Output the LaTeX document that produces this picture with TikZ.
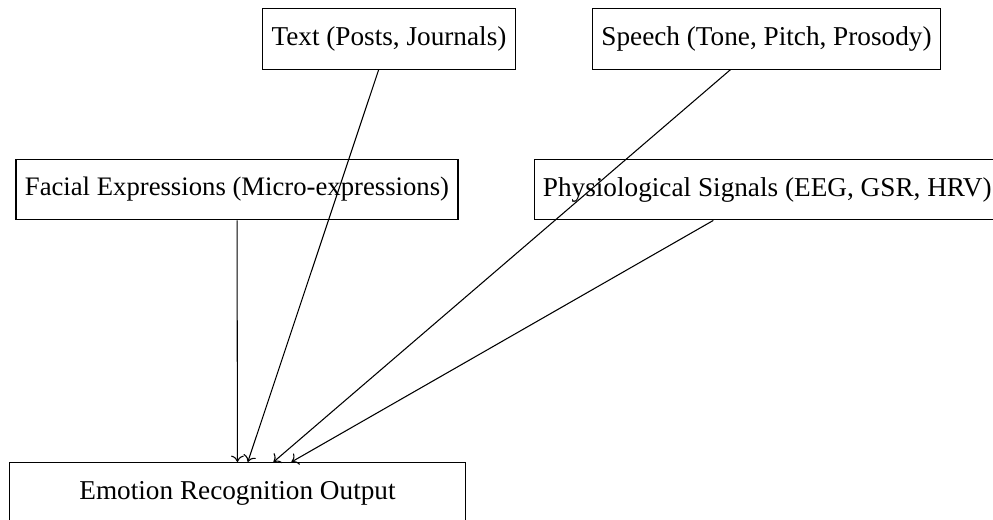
\documentclass[tikz,border=0pt]{standalone}
\usepackage{fontspec}
\setmainfont{Liberation Serif}
\usetikzlibrary{arrows.meta}
\begin{document}
\begin{tikzpicture}[x=0.3745pt, y=-0.3745pt,
  srcbox/.style={draw, thin, minimum height=0.8cm, font=\fontsize{10.2}{12}\selectfont},
  outbox/.style={srcbox, minimum width=6cm},
  feed/.style={-{To[width=4.8pt,length=2.4pt]}, thin}]
  \useasboundingbox (0,0) rectangle (993,520);
  % input modalities
  \node[srcbox] (text) at (389,38.7) {Text (Posts, Journals)};
  \node[srcbox] (speech) at (766.5,38.7) {Speech (Tone, Pitch, Prosody)};
  \node[srcbox, font=\fontsize{10}{12}\selectfont] (face) at (237,189.5) {Facial Expressions (Micro-expressions)};
  \node[srcbox, anchor=west] (phys) at (533.5,189.5) {Physiological Signals (EEG, GSR, HRV)};
  % fused result
  \node[outbox, anchor=north] (out) at (237.5,462) {Emotion Recognition Output};
  % connectors
  \draw[feed] (face) -- (out);
  \draw[feed] (text) -- (out);
  \draw[feed] (speech) -- (out);
  \draw[feed] (phys) -- (out);
\end{tikzpicture}
\end{document}
